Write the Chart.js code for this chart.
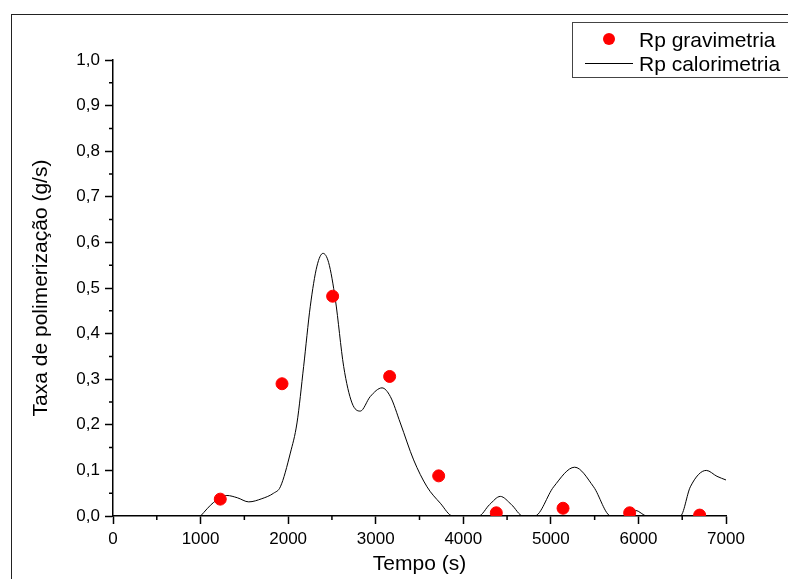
<!DOCTYPE html>
<html>
<head>
<meta charset="utf-8">
<script src="https://cdn.jsdelivr.net/npm/chart.js@4.4.0/dist/chart.umd.min.js"></script>
<style>
  html, body { margin: 0; padding: 0; background: #fff; }
  #wrap { width: 788px; height: 579px; }
</style>
</head>
<body>
<div id="wrap"><canvas id="myChart" width="788" height="579"></canvas></div>
<script>
// gravimetric points (Tempo in s, Rp in g/s)
const gravX = [1225, 1930, 2508, 3159, 3719, 4377, 5139, 5900, 6699];
const gravY = [0.037, 0.290, 0.482, 0.306, 0.088, 0.007, 0.017, 0.007, 0.002];

// calorimetric curve
const calX = [1000, 1150, 1300, 1420, 1550, 1700, 1834, 1911, 2025, 2101, 2177, 2253, 2329, 2398, 2462, 2539,
  2634, 2729, 2824, 2938, 3072, 3167, 3281, 3433, 3586, 3738, 3880, 4175, 4300, 4423, 4550, 4682,
  4815, 5032, 5272, 5488, 5687, 5841, 5964, 6098, 6478, 6593, 6775, 6897, 7000];
const calY = [0, 0.030, 0.045, 0.040, 0.031, 0.038, 0.050, 0.064, 0.138, 0.204, 0.328, 0.460, 0.548, 0.576, 0.556, 0.475,
  0.328, 0.248, 0.230, 0.262, 0.281, 0.262, 0.204, 0.123, 0.064, 0.028, 0, 0, 0.025, 0.043, 0.025, 0,
  0, 0.064, 0.107, 0.064, 0, 0, 0.0125, 0, 0, 0.064, 0.100, 0.087, 0.079];

const xTicks = [0, 1000, 2000, 3000, 4000, 5000, 6000, 7000];
const yTicks = [0, 0.1, 0.2, 0.3, 0.4, 0.5, 0.6, 0.7, 0.8, 0.9, 1.0];

const FONT = 'Liberation Sans, Arial, sans-serif';

function pts(xs, ys) {
  return xs.map((x, i) => ({ x: x, y: ys[i] }));
}

// small ticks between the big ones, plus the outer frame and the boxed legend
const extras = {
  id: 'extras',
  afterDraw(chart) {
    const ctx = chart.ctx;
    const xs = chart.scales.x, ys = chart.scales.y;
    ctx.save();
    ctx.strokeStyle = '#000';
    ctx.lineWidth = 1.5;
    ctx.beginPath();
    for (let i = 0; i < xTicks.length - 1; i++) {
      const px = xs.getPixelForValue((xTicks[i] + xTicks[i + 1]) / 2);
      ctx.moveTo(px, xs.top);
      ctx.lineTo(px, xs.top + 4);
    }
    for (let i = 0; i < yTicks.length - 1; i++) {
      const py = ys.getPixelForValue((yTicks[i] + yTicks[i + 1]) / 2);
      ctx.moveTo(ys.right, py);
      ctx.lineTo(ys.right - 4, py);
    }
    ctx.stroke();

    // page frame
    ctx.strokeStyle = '#222';
    ctx.lineWidth = 1;
    ctx.strokeRect(11.5, 14.5, 900, 900);

    // legend
    ctx.strokeStyle = '#444';
    ctx.strokeRect(572.5, 22.5, 300, 55);
    const ds = chart.data.datasets;
    ctx.fillStyle = 'red';
    ctx.beginPath();
    ctx.arc(609, 39, 6, 0, Math.PI * 2);
    ctx.fill();
    ctx.strokeStyle = '#000';
    ctx.beginPath();
    ctx.moveTo(585, 63.5);
    ctx.lineTo(633, 63.5);
    ctx.stroke();
    ctx.fillStyle = '#000';
    ctx.font = '21px ' + FONT;
    ctx.textBaseline = 'alphabetic';
    ctx.fillText(ds[0].label, 639, 47);
    ctx.fillText(ds[1].label, 639, 71);
    ctx.restore();
  }
};

const data = {
  datasets: [{
    type: 'scatter',
    label: 'Rp gravimetria',
    data: pts(gravX, gravY),
    backgroundColor: 'rgb(255, 0, 0)',
    borderColor: 'rgb(255, 0, 0)',
    pointRadius: 6,
    order: 0
  }, {
    type: 'line',
    label: 'Rp calorimetria',
    data: pts(calX, calY),
    borderColor: '#000',
    borderWidth: 1,
    pointRadius: 0,
    fill: false,
    cubicInterpolationMode: 'monotone',
    order: 1
  }]
};

const config = {
  type: 'scatter',
  data: data,
  options: {
    responsive: false,
    animation: false,
    layout: {
      padding: { left: 25, right: 62, top: 60, bottom: 0 }
    },
    plugins: {
      legend: { display: false },
      tooltip: { enabled: false }
    },
    scales: {
      x: {
        type: 'linear',
        min: 0,
        max: 7000,
        afterFit: (s) => { s.height = 63; },
        afterBuildTicks: (s) => { s.ticks = xTicks.map(v => ({ value: v })); },
        border: { display: true, color: '#000', width: 1.5 },
        grid: { drawOnChartArea: false, drawTicks: true, tickLength: 8, tickColor: '#000', tickWidth: 1.5 },
        ticks: { color: '#000', font: { family: FONT, size: 17 }, padding: 5, maxRotation: 0,
          callback: (v) => String(Math.round(v)) },
        title: { display: true, text: 'Tempo (s)', color: '#000', font: { family: FONT, size: 21 }, padding: 2 }
      },
      y: {
        type: 'linear',
        min: 0,
        max: 1.0,
        afterFit: (s) => { s.width = 88; },
        afterBuildTicks: (s) => { s.ticks = yTicks.map(v => ({ value: v })); },
        border: { display: true, color: '#000', width: 1.5 },
        grid: { drawOnChartArea: false, drawTicks: true, tickLength: 8, tickColor: '#000', tickWidth: 1.5 },
        ticks: {
          color: '#000',
          font: { family: FONT, size: 17 },
          padding: 5,
          callback: (v) => Number(v).toFixed(1).replace('.', ',')
        },
        title: { display: true, text: 'Taxa de polimerização (g/s)', color: '#000', font: { family: FONT, size: 21 }, padding: 4 }
      }
    }
  },
  plugins: [extras]
};

const myChart = new Chart(document.getElementById('myChart'), config);
</script>
</body>
</html>
